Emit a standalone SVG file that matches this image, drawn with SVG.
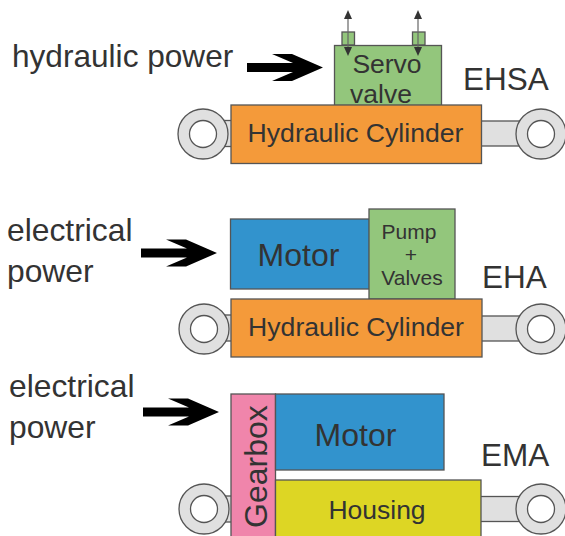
<svg xmlns="http://www.w3.org/2000/svg" width="565" height="536" viewBox="0 0 565 536">
<style>
text{font-family:"Liberation Sans",Arial,sans-serif;fill:#333}
.b{stroke:#555;stroke-width:1.3}
.o{fill:#f49a3a}.g{fill:#93c67c}.m{fill:#3293cd}.p{fill:#f085ab}.y{fill:#ddd624}
.r{fill:#e0e0e0;stroke:#555;stroke-width:1.3}
.h{fill:#fff;stroke:#555;stroke-width:1.3}
.k{fill:#000}
.l{stroke:#666;stroke-width:1.2;fill:none;marker-start:url(#a);marker-end:url(#a)}
</style>
<defs>
<marker id="a" markerUnits="userSpaceOnUse" markerWidth="9" markerHeight="8" refX="0" refY="4" orient="auto-start-reverse" viewBox="0 0 9 8"><path d="M0 0L9 4L0 8Z" fill="#333"/></marker>
<g id="eye"><circle r="25" class="r"/><circle r="13.500" class="h"/></g>
<path id="arr" d="M0-4.500H46L25-13.500H45L76 0L45 13.500H25L46 4.500H0Z"/>
</defs>
<g id="connectors">
<use href="#arr" x="247" y="67.500" class="k"/>
<use href="#arr" x="141" y="253" class="k"/>
<use href="#arr" x="143" y="412" class="k"/>
</g>
<g id="ehsa">
<rect x="224" y="120.500" width="10" height="26" class="r"/><rect x="478" y="121" width="44" height="25" class="r"/>
<use href="#eye" x="203" y="134"/><use href="#eye" x="541" y="134"/>
<rect x="342" y="32" width="12.500" height="13" class="g b"/><rect x="412.500" y="32" width="12.500" height="13" class="g b"/>
<rect x="334.500" y="45.500" width="107" height="60" class="g b"/>
<rect x="231" y="105" width="250.500" height="58.500" class="o b"/>
<path d="M348 19V47" class="l"/><path d="M418 19V47" class="l"/>
<text x="387" y="73" font-size="26.500" text-anchor="middle">Servo</text>
<text x="381" y="103" font-size="26.500" text-anchor="middle">valve</text>
<text x="355.500" y="142" font-size="26.600" text-anchor="middle">Hydraulic Cylinder</text>
<text x="463" y="90" font-size="31.500">EHSA</text>
<text x="12" y="67" font-size="31.600">hydraulic power</text>
</g>
<g id="eha">
<rect x="224" y="315" width="10" height="26" class="r"/><rect x="478" y="316" width="44" height="25" class="r"/>
<use href="#eye" x="204" y="329"/><use href="#eye" x="541" y="329"/>
<rect x="230.500" y="219" width="139" height="70" class="m b"/>
<rect x="369" y="209" width="86" height="90" class="g b"/>
<rect x="231" y="299" width="251" height="58" class="o b"/>
<text x="298.500" y="266" font-size="32" text-anchor="middle">Motor</text>
<text x="409" y="239" font-size="21" text-anchor="middle">Pump</text>
<text x="411" y="262" font-size="21" text-anchor="middle">+</text>
<text x="412" y="285" font-size="21" text-anchor="middle">Valves</text>
<text x="356" y="336" font-size="26.600" text-anchor="middle">Hydraulic Cylinder</text>
<text x="482" y="288" font-size="31.500">EHA</text>
<text x="7" y="241" font-size="31.800">electrical</text>
<text x="7" y="282" font-size="31.800">power</text>
</g>
<g id="ema">
<rect x="224" y="496" width="10" height="26" class="r"/><rect x="478" y="496.500" width="44" height="25" class="r"/>
<use href="#eye" x="204" y="509"/><use href="#eye" x="541" y="509"/>
<rect x="231" y="394" width="44.500" height="144" class="p b"/>
<rect x="275.500" y="394" width="168.500" height="76" class="m b"/>
<rect x="275.500" y="480" width="205.500" height="60" class="y b"/>
<text x="267" y="466.500" font-size="32" text-anchor="middle" transform="rotate(-90 267 466.500)">Gearbox</text>
<text x="355.500" y="446" font-size="32" text-anchor="middle">Motor</text>
<text x="377" y="519" font-size="26.500" text-anchor="middle">Housing</text>
<text x="481" y="466" font-size="31.500">EMA</text>
<text x="9" y="397" font-size="31.800">electrical</text>
<text x="9" y="438" font-size="31.800">power</text>
</g>
</svg>
